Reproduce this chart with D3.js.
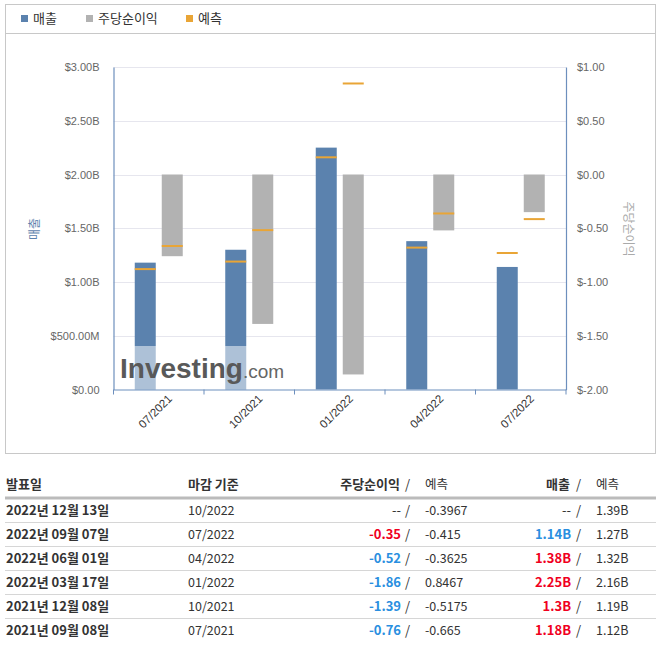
<!DOCTYPE html>
<html><head><meta charset="utf-8">
<script src="https://cdn.jsdelivr.net/npm/d3@7/dist/d3.min.js"></script>
<style>
html,body{margin:0;padding:0;background:#fff;}
svg{display:block;}
</style></head>
<body>
<svg id="c" width="660" height="649"></svg>
<script>
// ---- chart data ----
const categories = ["07/2021","10/2021","01/2022","04/2022","07/2022"];
const revenue = [1.18, 1.3, 2.25, 1.38, 1.14];           // billions
const revenueForecast = [1.12, 1.19, 2.16, 1.32, 1.27];  // billions
const eps = [-0.76, -1.39, -1.86, -0.52, -0.35];
const epsForecast = [-0.665, -0.5175, 0.8467, -0.3625, -0.415];
const leftTicks = [0, 0.5, 1, 1.5, 2, 2.5, 3];
const rightTicks = [-2, -1.5, -1, -0.5, 0, 0.5, 1];
const legendLabels = ["매출", "주당순이익", "예측"];

// ---- table data ----
const tableHeaders = ["발표일", "마감 기준", "주당순이익", "예측", "매출", "예측"];
const releaseDates = ["2022년 12월 13일","2022년 09월 07일","2022년 06월 01일","2022년 03월 17일","2021년 12월 08일","2021년 09월 08일"];
const periodEnd = ["10/2022","07/2022","04/2022","01/2022","10/2021","07/2021"];
const epsActual = [null, -0.35, -0.52, -1.86, -1.39, -0.76];
const epsEstimate = [-0.3967, -0.415, -0.3625, 0.8467, -0.5175, -0.665];
const revActual = [null, 1.14, 1.38, 2.25, 1.3, 1.18];
const revEstimate = [1.39, 1.27, 1.32, 2.16, 1.19, 1.12];

const C = {rev:"#5b82ae", eps:"#b2b2b2", fc:"#e9a536", axis:"#6d8fbd", grid:"#e6e6ee",
           tick:"#666", up:"#f0001e", down:"#2a8fe0", text:"#333"};
const FONT = "'Liberation Sans', Arial, sans-serif";
const KFONT = "'Noto Sans CJK KR', 'Noto Sans', sans-serif";

const svg = d3.select("#c");

// frame
svg.append("rect").attr("x",5.5).attr("y",4.5).attr("width",650).attr("height",449)
  .attr("fill","none").attr("stroke","#c8c8c8");
svg.append("line").attr("x1",5.5).attr("x2",655.5).attr("y1",33.5).attr("y2",33.5).attr("stroke","#c8c8c8");

// legend
const legColors = [C.rev, C.eps, C.fc];
const legX = [21, 86, 186];
legendLabels.forEach((t,i)=>{
  svg.append("rect").attr("x",legX[i]).attr("y",15).attr("width",7).attr("height",7).attr("fill",legColors[i]);
  svg.append("text").attr("x",legX[i]+12).attr("y",23).attr("font-family",KFONT).attr("font-size",13)
    .attr("fill",C.text).text(t);
});

// scales
const L = 113.5, R = 566, T = 67, B = 389.5;
const x = d3.scaleBand().domain(categories).range([L,R]).paddingInner(0).paddingOuter(0);
const sub = d3.scaleBand().domain(["rev","eps"])
  .range([x.bandwidth()/2-24, x.bandwidth()/2+24]).paddingInner(6/27).paddingOuter(0);
const yL = d3.scaleLinear().domain([0,3]).range([B,T]);
const yR = d3.scaleLinear().domain([-2,1]).range([B,T]);

// grid
svg.append("g").selectAll("line").data(leftTicks.filter(v=>v>0)).join("line")
  .attr("x1",L).attr("x2",R).attr("y1",d=>Math.round(yL(d))+0.5).attr("y2",d=>Math.round(yL(d))+0.5)
  .attr("stroke",C.grid).attr("stroke-width",1);

// revenue bars
svg.append("g").selectAll("rect").data(categories).join("rect")
  .attr("x",(d)=>x(d)+sub("rev")).attr("width",sub.bandwidth())
  .attr("y",(d,i)=>yL(revenue[i])).attr("height",(d,i)=>B-yL(revenue[i]))
  .attr("fill",C.rev);

// eps bars (from zero)
svg.append("g").selectAll("rect").data(categories).join("rect")
  .attr("x",(d)=>x(d)+sub("eps")).attr("width",sub.bandwidth())
  .attr("y",(d,i)=>Math.min(yR(0),yR(eps[i]))).attr("height",(d,i)=>Math.abs(yR(eps[i])-yR(0)))
  .attr("fill",C.eps);

// forecast markers
svg.append("g").selectAll("line").data(categories).join("line")
  .attr("x1",d=>x(d)+sub("rev")).attr("x2",d=>x(d)+sub("rev")+sub.bandwidth())
  .attr("y1",(d,i)=>yL(revenueForecast[i])).attr("y2",(d,i)=>yL(revenueForecast[i]))
  .attr("stroke",C.fc).attr("stroke-width",2);
svg.append("g").selectAll("line").data(categories).join("line")
  .attr("x1",d=>x(d)+sub("eps")).attr("x2",d=>x(d)+sub("eps")+sub.bandwidth())
  .attr("y1",(d,i)=>yR(epsForecast[i])).attr("y2",(d,i)=>yR(epsForecast[i]))
  .attr("stroke",C.fc).attr("stroke-width",2);

// watermark
svg.append("rect").attr("x",L).attr("y",346).attr("width",177).attr("height",B-346)
  .attr("fill","#fff").attr("opacity",0.5);
const wm = svg.append("text").attr("x",120).attr("y",378).attr("font-family",FONT);
wm.append("tspan").attr("font-size",28).attr("font-weight","bold").attr("fill","#595959")
  .text("Investing");
wm.append("tspan").attr("font-size",19).attr("fill","#666").text(".com");

// axes
const fmtL = v => v===0 ? "$0.00" : (v<1 ? "$"+(v*1000).toFixed(2)+"M" : "$"+v.toFixed(2)+"B");
const fmtR = v => "$"+v.toFixed(2);
const axL = svg.append("g").attr("transform",`translate(${L},0)`)
  .call(d3.axisLeft(yL).tickValues(leftTicks).tickFormat(fmtL).tickSize(0).tickPadding(14));
const axR = svg.append("g").attr("transform",`translate(${R},0)`)
  .call(d3.axisRight(yR).tickValues(rightTicks).tickFormat(fmtR).tickSize(0).tickPadding(11));
[axL,axR].forEach(a=>{
  a.select(".domain").attr("stroke",C.axis).attr("stroke-width",1.2);
  a.selectAll("text").attr("font-family",FONT).attr("font-size",11).attr("fill",C.tick);
});
const axB = svg.append("g").attr("transform",`translate(0,${B})`)
  .call(d3.axisBottom(x).tickSize(0).tickFormat(""));
axB.select(".domain").attr("stroke",C.axis).attr("stroke-width",1.2);
axB.selectAll(".tick").remove();
const bounds = categories.map(d=>x(d)).concat([R]);
svg.append("g").selectAll("line").data(bounds).join("line")
  .attr("x1",d=>d).attr("x2",d=>d).attr("y1",B).attr("y2",B+5).attr("stroke",C.axis);
svg.append("g").selectAll("text").data(categories).join("text")
  .attr("transform",d=>`translate(${x(d)+x.bandwidth()/2+14},${B+10}) rotate(-45)`)
  .attr("text-anchor","end").attr("font-family",FONT).attr("font-size",11.5).attr("fill","#333")
  .text(d=>d);

// axis titles
svg.append("text").attr("transform","translate(39,229) rotate(-90)").attr("text-anchor","middle")
  .attr("font-family",KFONT).attr("font-size",12).attr("fill",C.rev).text(legendLabels[0]);
svg.append("text").attr("transform","translate(624,229) rotate(90)").attr("text-anchor","middle")
  .attr("font-family",KFONT).attr("font-size",12).attr("fill","#aaa").text(legendLabels[1]);

// ---- table ----
const tg = svg.append("g").attr("font-family",KFONT).attr("fill",C.text);
const hy = 489;
tg.append("text").attr("x",6).attr("y",hy).attr("font-size",13).attr("font-weight","bold").text(tableHeaders[0]);
tg.append("text").attr("x",188).attr("y",hy).attr("font-size",13).attr("font-weight","bold").text(tableHeaders[1]);
tg.append("text").attr("x",400).attr("y",hy).attr("text-anchor","end").attr("font-size",13).attr("font-weight","bold").text(tableHeaders[2]);
tg.append("text").attr("x",405).attr("y",hy).attr("font-size",13).text("/");
tg.append("text").attr("x",425).attr("y",hy).attr("font-size",12.5).text(tableHeaders[3]);
tg.append("text").attr("x",570).attr("y",hy).attr("text-anchor","end").attr("font-size",13).attr("font-weight","bold").text(tableHeaders[4]);
tg.append("text").attr("x",576).attr("y",hy).attr("font-size",13).text("/");
tg.append("text").attr("x",596).attr("y",hy).attr("font-size",12.5).text(tableHeaders[5]);
svg.append("line").attr("x1",5).attr("x2",656).attr("y1",498).attr("y2",498).attr("stroke","#bbb").attr("stroke-width",3);

const rowY = i => 515 + i*24;
releaseDates.forEach((d,i)=>{
  const y = rowY(i);
  if(i>0) svg.append("line").attr("x1",5).attr("x2",656).attr("y1",y-16.5).attr("y2",y-16.5).attr("stroke","#d6d6d6");
  tg.append("text").attr("x",6).attr("y",y).attr("font-size",13).attr("font-weight","bold").text(d);
  tg.append("text").attr("x",188).attr("y",y).attr("font-size",12.5).text(periodEnd[i]);
  const ea = epsActual[i];
  tg.append("text").attr("x",401).attr("y",y).attr("text-anchor","end").attr("font-size",13)
    .attr("font-weight", ea===null?"normal":"bold")
    .attr("fill", ea===null?C.text:(ea>epsEstimate[i]?C.up:C.down))
    .text(ea===null?"--":String(ea));
  tg.append("text").attr("x",405).attr("y",y).attr("font-size",13).text("/");
  tg.append("text").attr("x",425).attr("y",y).attr("font-size",12.5).text(String(epsEstimate[i]));
  const ra = revActual[i];
  tg.append("text").attr("x",571).attr("y",y).attr("text-anchor","end").attr("font-size",13)
    .attr("font-weight", ra===null?"normal":"bold")
    .attr("fill", ra===null?C.text:(ra>revEstimate[i]?C.up:C.down))
    .text(ra===null?"--":String(ra)+"B");
  tg.append("text").attr("x",576).attr("y",y).attr("font-size",13).text("/");
  tg.append("text").attr("x",596).attr("y",y).attr("font-size",12.5).text(String(revEstimate[i])+"B");
});
</script>
</body></html>
